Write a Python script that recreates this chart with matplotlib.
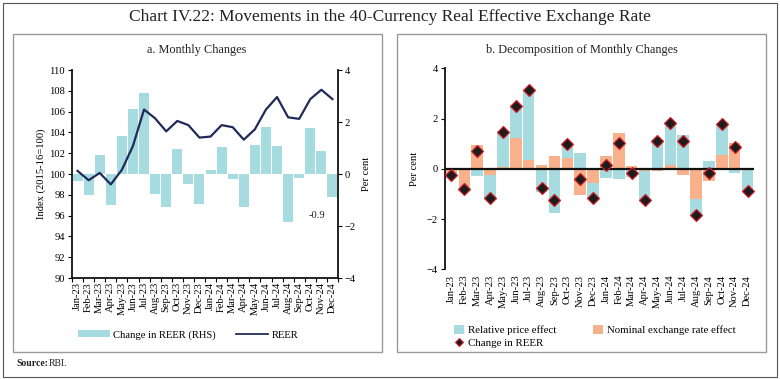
import matplotlib
matplotlib.use("Agg")
import matplotlib.pyplot as plt
from matplotlib.patches import Rectangle, Patch
from matplotlib.lines import Line2D
import numpy as np

months = ["Jan-23", "Feb-23", "Mar-23", "Apr-23", "May-23", "Jun-23", "Jul-23", "Aug-23",
          "Sep-23", "Oct-23", "Nov-23", "Dec-23", "Jan-24", "Feb-24", "Mar-24", "Apr-24",
          "May-24", "Jun-24", "Jul-24", "Aug-24", "Sep-24", "Oct-24", "Nov-24", "Dec-24"]
reer = [100.3, 99.4, 100.1, 99.0, 100.4, 102.7, 106.2, 105.35, 104.1, 105.1, 104.7, 103.5,
        103.6, 104.7, 104.5, 103.3, 104.3, 106.2, 107.4, 105.45, 105.3, 107.2, 108.1, 107.2]
reer_chg = [-0.25, -0.79, 0.72, -1.18, 1.45, 2.49, 3.13, -0.76, -1.26, 0.98, -0.40, -1.17,
            0.15, 1.03, -0.18, -1.26, 1.11, 1.81, 1.09, -1.83, -0.17, 1.78, 0.87, -0.88]
relative_price = [-0.10, -0.05, -0.27, -0.93, 1.34, 1.25, 2.75, -0.93, -1.77, 0.57, 0.61, -0.58,
                  -0.36, -0.40, -0.32, -1.18, 1.20, 1.64, 1.35, -0.60, 0.32, 1.25, -0.16, -0.90]
nominal_fx = [-0.15, -0.74, 0.93, -0.23, 0.09, 1.24, 0.37, 0.17, 0.49, 0.41, -1.04, -0.58,
              0.50, 1.43, 0.13, -0.08, -0.08, 0.17, -0.25, -1.22, -0.48, 0.53, 1.02, 0.02]

CYAN = "#A6DBDF"
ORANGE = "#F8B18B"
NAVY = "#222A5A"
SERIF = ["Liberation Serif", "DejaVu Serif"]
plt.rcParams["font.family"] = SERIF

W, H = 780, 379
fig = plt.figure(figsize=(W / 100, H / 100), dpi=100)

def fx(x): return x / W
def fy(y): return 1 - y / H

# frames
fig.patches.append(Rectangle((fx(3), fy(377)), fx(774), (374) / H, transform=fig.transFigure,
                             fill=False, edgecolor="#555555", lw=0.8))
fig.patches.append(Rectangle((fx(13), fy(352)), fx(369), 318 / H, transform=fig.transFigure,
                             fill=False, edgecolor="#999999", lw=1.0))
fig.patches.append(Rectangle((fx(397), fy(352)), fx(369), 318 / H, transform=fig.transFigure,
                             fill=False, edgecolor="#999999", lw=1.0))

fig.text(0.5, fy(17), "Chart IV.22: Movements in the 40-Currency Real Effective Exchange Rate",
         ha="center", va="center", fontsize=12.5, color="#222222")
fig.text(fx(197), fy(50), "a. Monthly Changes", ha="center", va="center", fontsize=8.8, color="#222222")
fig.text(fx(582), fy(50), "b. Decomposition of Monthly Changes", ha="center", va="center",
         fontsize=8.8, color="#222222")
fig.text(fx(16), fy(364), "Source:", ha="left", va="center", fontsize=7, fontweight="bold", color="#222222")
fig.text(fx(49), fy(364), "RBI.", ha="left", va="center", fontsize=7, color="#222222")

x = np.arange(len(months))
TFS = 7.6

# ---- Panel a ----
axa = fig.add_axes([fx(72), fy(278), fx(266), 208 / H])
axr = axa.twinx()
axa.set_zorder(2)
axa.patch.set_visible(False)
axr.bar(x, reer_chg, width=0.9, color=CYAN, zorder=1)
axr.set_ylim(-4, 4)
axr.set_yticks([-4, -2, 0, 2, 4])
axa.plot(x, reer, color=NAVY, lw=1.6, zorder=3)
axa.set_ylim(90, 110)
axa.set_yticks(np.arange(90, 111, 2))
axa.set_xlim(-0.5, len(months) - 0.5)
axa.set_xticks(x)
axa.set_xticklabels(months, rotation=90, fontsize=TFS)
axa.tick_params(axis="x", length=0, pad=3)
axa.set_xticks(np.arange(-0.5, len(months), 1), minor=True)
axa.tick_params(axis="x", which="minor", length=3, width=0.8)
for ax in (axa, axr):
    ax.spines["top"].set_visible(False)
    for s in ("left", "right", "bottom"):
        ax.spines[s].set_linewidth(1.3)
        ax.spines[s].set_color("#111111")
axa.spines["right"].set_visible(False)
axr.spines["left"].set_visible(False)
axr.spines["bottom"].set_visible(False)
axa.tick_params(axis="y", labelsize=TFS, length=3, width=0.8, pad=2)
axr.tick_params(axis="y", labelsize=TFS, length=3, width=0.8, pad=2)
axa.set_ylabel("Index (2015-16=100)", fontsize=TFS, labelpad=2)
axr.set_ylabel("Per cent", fontsize=TFS, labelpad=4)
axr.text(21.6, -1.58, "-0.9", fontsize=TFS, ha="center", va="center", color="#222222")

ha = [Patch(facecolor=CYAN, edgecolor="none"), Line2D([], [], color=NAVY, lw=1.3)]
fig.legend(ha, ["Change in REER (RHS)", "REER"], loc="center", bbox_to_anchor=(fx(188), fy(335)),
           ncol=2, frameon=False, fontsize=7.6, handlelength=3.0, handleheight=0.6,
           columnspacing=2.0, handletextpad=0.3)

# ---- Panel b ----
axb = fig.add_axes([fx(445), fy(269.3), fx(309), 201 / H])
pos_base = np.zeros(len(months))
neg_base = np.zeros(len(months))
for vals, col in ((nominal_fx, ORANGE), (relative_price, CYAN)):
    v = np.array(vals)
    bottoms = np.where(v >= 0, pos_base, neg_base)
    axb.bar(x, v, bottom=bottoms, width=0.9, color=col, zorder=1)
    pos_base = pos_base + np.where(v >= 0, v, 0)
    neg_base = neg_base + np.where(v < 0, v, 0)
axb.axhline(0, color="#111111", lw=1.6, zorder=2)
axb.plot(x, reer_chg, ls="none", marker="D", markersize=6.5, markerfacecolor="#1c1c1c",
         markeredgecolor="#D0202A", markeredgewidth=0.9, zorder=3)
axb.set_ylim(-4, 4)
axb.set_yticks([-4, -2, 0, 2, 4])
axb.set_xlim(-0.5, len(months) - 0.5)
axb.set_xticks(x)
axb.set_xticklabels(months, rotation=90, fontsize=TFS)
axb.tick_params(axis="x", length=0, pad=4)
for s in ("top", "right", "bottom"):
    axb.spines[s].set_visible(False)
axb.spines["left"].set_linewidth(1.3)
axb.spines["left"].set_color("#111111")
axb.tick_params(axis="y", labelsize=TFS, length=3, width=0.8, pad=2)
axb.set_ylabel("Per cent", fontsize=TFS, labelpad=6)

hb = [Patch(facecolor=CYAN, edgecolor="none"),
      Line2D([], [], ls="none", marker="D", markersize=4.5, markerfacecolor="#1c1c1c",
             markeredgecolor="#D0202A", markeredgewidth=0.8),
      Patch(facecolor=ORANGE, edgecolor="none")]
fig.legend(hb, ["Relative price effect", "Change in REER", "Nominal exchange rate effect"],
           loc="upper left", bbox_to_anchor=(fx(444), fy(315)), ncol=2, frameon=False, fontsize=7.8,
           handlelength=0.9, handleheight=0.9, columnspacing=3.4, handletextpad=0.4, labelspacing=0.3)

fig.savefig("out.png", dpi=100)
